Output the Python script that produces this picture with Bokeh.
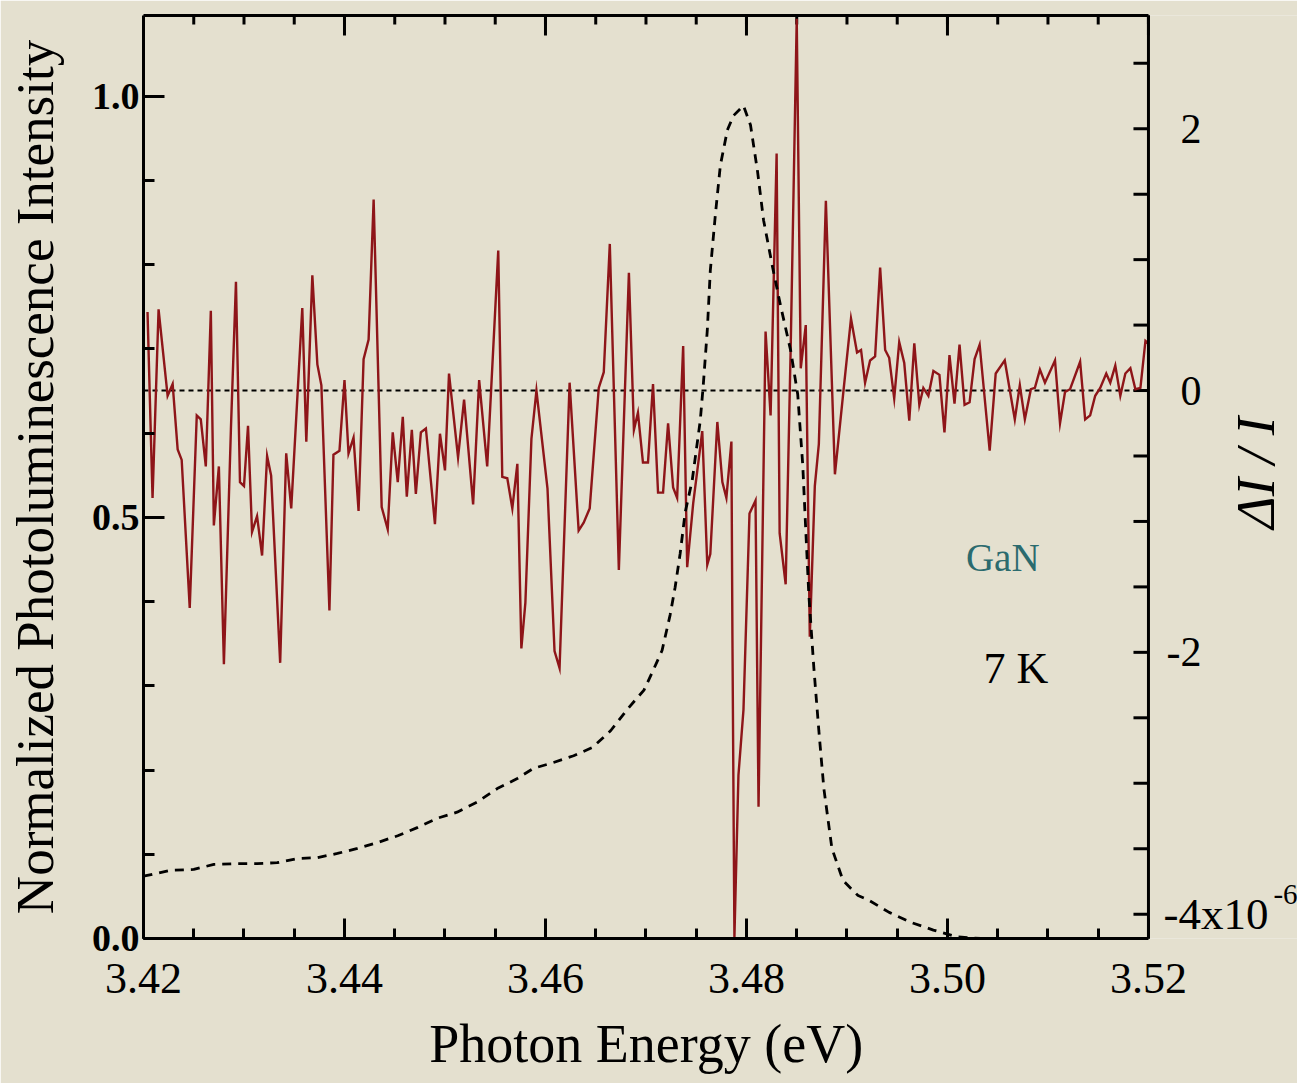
import math

from bokeh.plotting import figure
from bokeh.models import (Range1d, LinearAxis, FixedTicker, Span, Label,
                          NumeralTickFormatter)
from bokeh.core.properties import value
from bokeh.embed import file_html
from bokeh.resources import INLINE

# --- modulation signal dI/I (units of 1e-6) ---
energy_dr = [
    3.4204, 3.4209, 3.4215, 3.4224, 3.4229, 3.4234, 3.4238, 3.4246, 3.4253, 3.4257,
    3.4262, 3.4267, 3.4270, 3.4275, 3.4280, 3.4287, 3.4292, 3.4296, 3.4300, 3.4304,
    3.4308, 3.4313, 3.4318, 3.4323, 3.4327, 3.4336, 3.4342, 3.4347, 3.4358, 3.4362,
    3.4368, 3.4373, 3.4377, 3.4385, 3.4389, 3.4395, 3.4400, 3.4404, 3.4409, 3.4414,
    3.4419, 3.4424, 3.4429, 3.4437, 3.4443, 3.4448, 3.4453, 3.4458, 3.4462, 3.4467,
    3.4471, 3.4476, 3.4481, 3.4490, 3.4495, 3.4500, 3.4504, 3.4513, 3.4519, 3.4528,
    3.4534, 3.4542, 3.4553, 3.4557, 3.4562, 3.4567, 3.4572, 3.4576, 3.4580, 3.4586,
    3.4591, 3.4602, 3.4609, 3.4614, 3.4624, 3.4633, 3.4638, 3.4644, 3.4653, 3.4658,
    3.4664, 3.4673, 3.4683, 3.4688, 3.4692, 3.4697, 3.4702, 3.4707, 3.4712, 3.4717,
    3.4722, 3.4727, 3.4731, 3.4737, 3.4741, 3.4747, 3.4756, 3.4761, 3.4764, 3.4771,
    3.4776, 3.4780, 3.4785, 3.4786, 3.4788, 3.4792, 3.4797, 3.4803, 3.4809, 3.4812,
    3.4819, 3.4824, 3.4830, 3.4833, 3.4839, 3.4844, 3.4850, 3.4854, 3.4859, 3.4863,
    3.4868, 3.4872, 3.4879, 3.4888, 3.4896, 3.4904, 3.4910, 3.4914, 3.4918, 3.4923,
    3.4928, 3.4933, 3.4938, 3.4942, 3.4947, 3.4952, 3.4957, 3.4962, 3.4967, 3.4972,
    3.4976, 3.4981, 3.4986, 3.4992, 3.4997, 3.5002, 3.5007, 3.5012, 3.5017, 3.5022,
    3.5027, 3.5032, 3.5042, 3.5048, 3.5057, 3.5067, 3.5072, 3.5077, 3.5083, 3.5087,
    3.5092, 3.5097, 3.5107, 3.5112, 3.5117, 3.5122, 3.5132, 3.5137, 3.5142, 3.5147,
    3.5152, 3.5158, 3.5162, 3.5167, 3.5172, 3.5177, 3.5182, 3.5187, 3.5192, 3.5197,
    3.5200,
]
delta_i = [
    0.60, -0.82, 0.62, -0.04, 0.05, -0.45, -0.53, -1.66, -0.19, -0.22,
    -0.58, 0.61, -1.03, -0.58, -2.09, -0.29, 0.83, -0.70, -0.73, -0.27,
    -1.08, -0.96, -1.26, -0.50, -0.65, -2.08, -0.48, -0.90, 0.63, -0.39,
    0.88, 0.20, 0.04, -1.68, -0.49, -0.46, 0.08, -0.48, -0.36, -0.92,
    0.24, 0.39, 1.46, -0.89, -1.06, -0.32, -0.70, -0.20, -0.81, -0.30,
    -0.79, -0.32, -0.29, -1.02, -0.33, -0.61, 0.13, -0.51, -0.07, -0.87,
    0.08, -0.58, 1.07, -0.66, -0.67, -0.90, -0.56, -1.97, -1.62, -0.37,
    0.00, -0.75, -1.99, -2.12, 0.06, -1.07, -1.01, -0.90, 0.02, 0.14,
    1.12, -1.37, 0.90, -0.30, -0.17, -0.55, -0.55, 0.05, -0.78, -0.78,
    -0.25, -0.74, -0.82, 0.34, -1.35, -0.86, -0.31, -1.33, -1.25, -0.24,
    -0.70, -0.82, -0.39, -1.86, -4.18, -2.94, -2.44, -0.94, -0.84, -3.18,
    0.45, -0.19, 1.81, -1.09, -1.48, 0.33, 2.84, 0.17, 0.50, -1.88,
    -0.73, -0.41, 1.45, -0.64, -0.04, 0.55, 0.29, 0.31, 0.06, 0.23,
    0.26, 0.94, 0.31, 0.25, -0.06, 0.37, 0.21, -0.23, 0.36, -0.11,
    0.02, -0.04, 0.15, 0.12, -0.32, 0.27, -0.10, 0.35, -0.11, -0.09,
    0.24, 0.35, -0.46, 0.13, 0.23, -0.22, 0.04, -0.22, 0.01, 0.02,
    0.16, 0.06, 0.23, -0.25, -0.01, 0.01, 0.22, -0.22, -0.19, -0.04,
    0.02, 0.13, 0.06, 0.19, -0.04, 0.13, 0.17, 0.01, 0.02, 0.38,
    0.36,
]

# --- normalized photoluminescence spectrum ---
energy_pl = [
    3.4200, 3.4227, 3.4250, 3.4270, 3.4294, 3.4313, 3.4333, 3.4353, 3.4373, 3.4393,
    3.4413, 3.4433, 3.4453, 3.4473, 3.4493, 3.4512, 3.4532, 3.4552, 3.4572, 3.4588,
    3.4608, 3.4628, 3.4647, 3.4665, 3.4682, 3.4698, 3.4707, 3.4716, 3.4724, 3.4729,
    3.4734, 3.4739, 3.4746, 3.4754, 3.4757, 3.4761, 3.4764, 3.4769, 3.4774, 3.4781,
    3.4787, 3.4797, 3.4804, 3.4811, 3.4817, 3.4826, 3.4834, 3.4844, 3.4851, 3.4856,
    3.4859, 3.4862, 3.4867, 3.4872, 3.4877, 3.4885, 3.4896, 3.4911, 3.4921, 3.4942,
    3.4964, 3.4986, 3.5009, 3.5033, 3.5083,
]
pl_intensity = [
    0.074, 0.081, 0.082, 0.088, 0.089, 0.089, 0.090, 0.095, 0.096, 0.101,
    0.107, 0.114, 0.122, 0.132, 0.143, 0.150, 0.162, 0.178, 0.190, 0.202,
    0.209, 0.217, 0.227, 0.247, 0.273, 0.295, 0.318, 0.342, 0.384, 0.417,
    0.457, 0.506, 0.544, 0.615, 0.657, 0.722, 0.793, 0.859, 0.918, 0.960,
    0.977, 0.989, 0.966, 0.911, 0.853, 0.797, 0.751, 0.698, 0.646, 0.562,
    0.485, 0.409, 0.322, 0.247, 0.178, 0.107, 0.069, 0.051, 0.046, 0.031,
    0.019, 0.010, 0.002, 0.000, 0.000,
]

# axis ticks and labels
x_major = [3.42, 3.44, 3.46, 3.48, 3.50, 3.52]
x_minor = [round(3.42 + 0.005 * i, 3) for i in range(21)]
pl_major = [0.0, 0.5, 1.0]
pl_minor = [round(0.1 * i, 1) for i in range(11)]
dr_major = [2, 0, -2]
dr_major_labels = ["2", "0", "-2"]
dr_bottom = [-4]
dr_bottom_mantissa = ["-4x10"]
dr_bottom_exponent = ["-6"]
dr_ticks = [-4 + 0.5 * i for i in range(14)]

SERIF = "Liberation Serif"
PAPER = "#e4e0cf"
X_LO, X_HI = x_major[0], x_major[-1]
PL_TOP = 1.096
# the frame runs on past 3.52 eV so the right-hand scale and its title sit inside it
X_VIEW_END = 3.53483
# the bottom title is centred on the whole frame; trailing no-break spaces
# pull the visible words back over the 3.42-3.52 box
TITLE_PAD = "\u00a0" * 11

p = figure(width=1297, height=1083, output_backend="svg", toolbar_location=None,
           x_range=Range1d(X_LO, X_VIEW_END), y_range=Range1d(0.0, PL_TOP),
           min_border_left=143, min_border_right=0,
           min_border_top=15, min_border_bottom=145)
p.extra_y_ranges = {"dI": Range1d(-4.186, 2.865)}

p.background_fill_color = PAPER
p.border_fill_color = PAPER
p.outline_line_color = None
p.xgrid.visible = False
p.ygrid.visible = False


def style_axis(ax, major_in, minor_in):
    ax.axis_line_width = 3
    ax.axis_line_color = "black"
    ax.major_tick_in = major_in
    ax.major_tick_out = 0
    ax.minor_tick_in = minor_in
    ax.minor_tick_out = 0
    ax.major_tick_line_width = 3
    ax.minor_tick_line_width = 3
    ax.major_label_text_font = SERIF
    ax.major_label_text_color = "black"
    ax.major_label_text_line_height = 1.0
    ax.axis_label_text_font = SERIF
    ax.axis_label_text_font_style = "normal"
    ax.axis_label_text_color = "black"
    ax.axis_label_text_line_height = 1.0


# bottom axis: photon energy
xb = p.xaxis[0]
xb.bounds = (X_LO, X_HI)
xb.ticker = FixedTicker(ticks=x_major, minor_ticks=x_minor)
xb.formatter = NumeralTickFormatter(format="0.00")
style_axis(xb, 20, 10)
xb.major_label_text_font_size = "44px"
xb.major_label_standoff = 25
xb.axis_label = "Photon Energy (eV)" + TITLE_PAD
xb.axis_label_text_font_size = "54px"
xb.axis_label_standoff = 18

# top edge of the box
xt = LinearAxis(bounds=(X_LO, X_HI), ticker=FixedTicker(ticks=[], minor_ticks=[]))
style_axis(xt, 0, 0)
p.add_layout(xt, "above")

# left axis: normalized PL intensity
yl = p.yaxis[0]
yl.ticker = FixedTicker(ticks=pl_major, minor_ticks=pl_minor)
yl.formatter = NumeralTickFormatter(format="0.0")
style_axis(yl, 21, 11)
yl.major_label_text_font_size = "38px"
yl.major_label_text_font_style = "bold"
yl.major_label_standoff = 4
yl.axis_label = "Normalized Photoluminescence Intensity"
yl.axis_label_text_font_size = "53px"
yl.axis_label_standoff = 25

# tick marks along the top edge (half of each dash is clipped by the frame)
p.scatter(x_minor, [PL_TOP] * len(x_minor), marker="dash", angle=math.pi / 2,
          size=18, line_color="black", line_width=3)
p.scatter(x_major, [PL_TOP] * len(x_major), marker="dash", angle=math.pi / 2,
          size=40, line_color="black", line_width=3)

# right edge of the box and the dI/I scale drawn on it
p.add_layout(Span(location=X_HI, dimension="height", line_color="black", line_width=3))
p.ray(x=[X_HI] * len(dr_ticks), y=dr_ticks, y_range_name="dI",
      length=15, length_units="screen", angle=math.pi,
      line_color="black", line_width=3)
p.text(x=[X_HI] * len(dr_major), y=dr_major, text=dr_major_labels, y_range_name="dI",
       x_offset=53, text_align="right", text_baseline="middle",
       text_font=value(SERIF), text_font_size=value("42px"), text_color="black")
p.text(x=[X_HI], y=dr_bottom, text=dr_bottom_mantissa, y_range_name="dI",
       x_offset=15, text_align="left", text_baseline="middle",
       text_font=value(SERIF), text_font_size=value("45px"), text_color="black")
p.text(x=[X_HI], y=dr_bottom, text=dr_bottom_exponent, y_range_name="dI",
       x_offset=125, y_offset=-20, text_align="left", text_baseline="middle",
       text_font=value(SERIF), text_font_size=value("29px"), text_color="black")
p.add_layout(Label(x=3.53065, y=0.553, text="\u0394I / I", angle=math.pi / 2,
                   text_font=SERIF, text_font_style="italic",
                   text_font_size="55px", text_color="black",
                   text_align="center", text_baseline="middle"))

# zero reference of the modulation signal
p.segment(x0=[X_LO], y0=[0], x1=[X_HI], y1=[0], y_range_name="dI",
          line_color="black", line_width=2, line_dash="5 4")

p.line(energy_dr, delta_i, y_range_name="dI",
       line_color="#8e1519", line_width=2.4, line_join="miter")
p.line(energy_pl, pl_intensity,
       line_color="black", line_width=2.8, line_dash="9 7")

p.add_layout(Label(x=3.5055, y=0.4525, text="GaN",
                   text_font=SERIF, text_font_size="39px", text_color="#2b6b6e",
                   text_align="center", text_baseline="middle"))
p.add_layout(Label(x=3.5068, y=0.321, text="7 K",
                   text_font=SERIF, text_font_size="44px", text_color="black",
                   text_align="center", text_baseline="middle"))

open("out.html", "w").write(file_html(p, INLINE))
